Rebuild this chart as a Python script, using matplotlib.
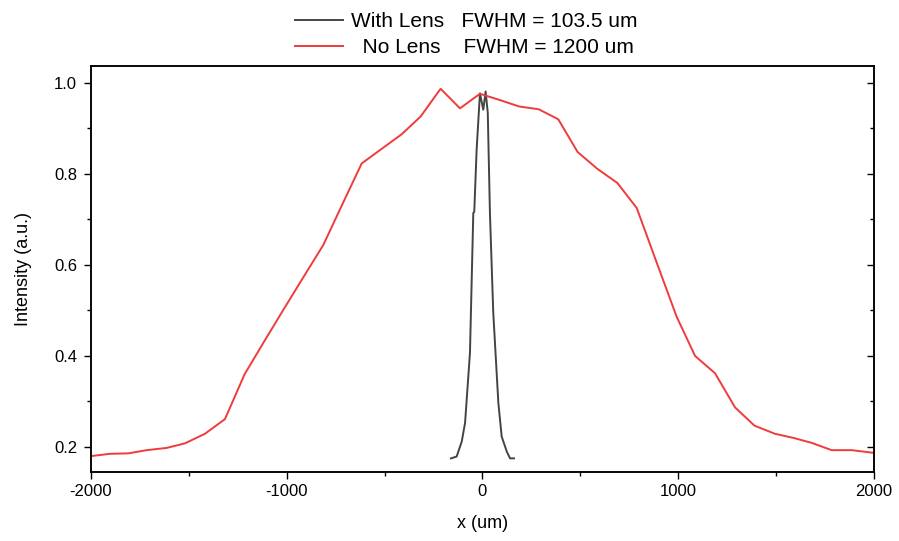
import matplotlib
matplotlib.use('Agg')
import matplotlib.pyplot as plt
from matplotlib.ticker import MultipleLocator

plt.rcParams['font.family'] = ['Liberation Sans', 'DejaVu Sans']
plt.rcParams['axes.unicode_minus'] = False

# with lens profile (um, a.u.)
lens_x = [-161, -132, -106, -89, -64, -47, -42, -30, -13, 4, 16, 27, 38, 55, 81, 98, 124, 141, 161]
lens_y = [0.175, 0.179, 0.212, 0.253, 0.407, 0.714, 0.717, 0.853, 0.977, 0.941, 0.981, 0.934,
          0.714, 0.495, 0.297, 0.223, 0.190, 0.175, 0.175]

# without lens profile
nolens_x = [-2000, -1903, -1809, -1716, -1613, -1520, -1418, -1316, -1215, -1115, -1015, -915,
            -813, -715, -617, -515, -413, -316, -214, -115, -13, 90, 188, 287, 387, 486, 587,
            689, 788, 890, 992, 1086, 1188, 1290, 1389, 1494, 1588, 1682, 1784, 1886, 2000]
nolens_y = [0.180, 0.185, 0.186, 0.193, 0.198, 0.208, 0.229, 0.261, 0.360, 0.432, 0.503, 0.573,
            0.644, 0.734, 0.823, 0.855, 0.887, 0.926, 0.987, 0.944, 0.976, 0.962, 0.948, 0.942,
            0.920, 0.848, 0.811, 0.780, 0.725, 0.605, 0.486, 0.400, 0.362, 0.287, 0.247, 0.229,
            0.220, 0.209, 0.193, 0.193, 0.187]

fig = plt.figure(figsize=(8.99, 5.41), dpi=100)
ax = fig.add_axes([0.1012, 0.1275, 0.8710, 0.7505])

ax.plot(lens_x, lens_y, color='#444444', lw=1.4, label='With Lens   FWHM = 103.5 um')
ax.plot(nolens_x, nolens_y, color='#ee3b3b', lw=1.4, label='  No Lens    FWHM = 1200 um')

ax.set_xlim(-2000, 2000)
ax.set_ylim(0.145, 1.037)
ax.xaxis.set_major_locator(MultipleLocator(1000))
ax.xaxis.set_minor_locator(MultipleLocator(500))
ax.yaxis.set_major_locator(MultipleLocator(0.2))
ax.yaxis.set_minor_locator(MultipleLocator(0.1))
ax.yaxis.set_major_formatter(plt.FuncFormatter(lambda v, p: f'{v:.1f}'))

ax.tick_params(which='major', direction='out', length=5, width=1, labelsize=12)
ax.tick_params(axis='y', which='major', pad=5)
ax.tick_params(which='minor', direction='out', length=3, width=1)
for s in ax.spines.values():
    s.set_linewidth(1.1)

# right axis: inward ticks, no labels
ax2 = ax.twinx()
ax2.set_ylim(ax.get_ylim())
ax2.yaxis.set_major_locator(MultipleLocator(0.2))
ax2.yaxis.set_minor_locator(MultipleLocator(0.1))
ax2.tick_params(which='major', direction='in', length=5, width=1, labelright=False)
ax2.tick_params(which='minor', direction='in', length=3, width=1)
for s in ax2.spines.values():
    s.set_linewidth(1.1)

ax.set_xlabel('x (um)', fontsize=13, labelpad=12)
ax.set_ylabel('Intensity (a.u.)', fontsize=13, labelpad=16)

fig.legend(*ax.get_legend_handles_labels(), loc='upper center',
           bbox_to_anchor=(466 / 899, 1 - 4 / 541), frameon=False, fontsize=15,
           handlelength=2.3, handletextpad=0.4, labelspacing=0.32, borderaxespad=0.0)

plt.savefig('out.png', dpi=100)
plt.close()
